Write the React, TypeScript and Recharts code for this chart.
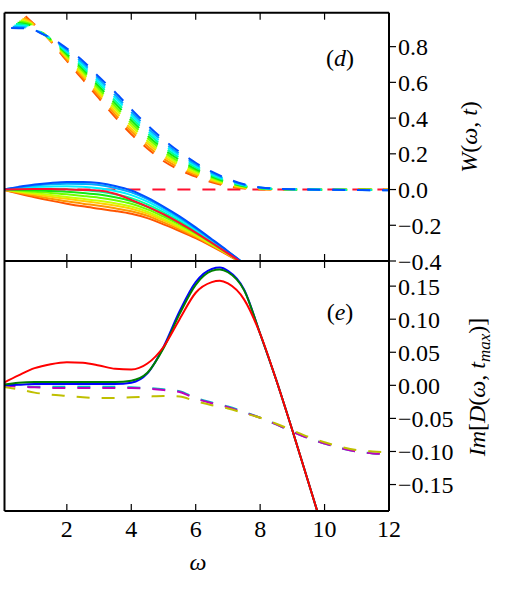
import React from "react";
import { Line, LineChart, XAxis, YAxis } from "recharts";

const W = 520;
const H = 615;
const serif = "Liberation Serif, DejaVu Serif, serif";
const X_MIN = 0.065;

const xTicks = [2, 4, 6, 8, 10, 12];
const wTicks = [-0.4, -0.2, 0, 0.2, 0.4, 0.6, 0.8];
const dTicks = [-0.15, -0.1, -0.05, 0, 0.05, 0.1, 0.15];
const wDomain = [-0.4, 0.99];
const dDomain = [-0.19, 0.188];

// rainbow palette, early time (orange) -> late time (blue)
const rainbow = ["#ff5500", "#ff9500", "#ffd000", "#c8ff00", "#6eff00", "#14e814", "#00ff9a", "#00f0ff", "#00a8ff", "#0050ff"];

// W(omega, t), solid family
const omegaW = [0, 0.5, 1, 1.5, 2, 2.5, 3, 3.5, 4, 4.5, 5, 5.5, 6, 6.5, 7, 7.5, 8];
const wSolid = [
  [0, -0.022, -0.043, -0.062, -0.079, -0.094, -0.107, -0.12, -0.136, -0.16, -0.195, -0.232, -0.272, -0.318, -0.367, -0.42, -0.48],
  [0, -0.018, -0.035, -0.051, -0.066, -0.079, -0.091, -0.105, -0.122, -0.147, -0.184, -0.223, -0.265, -0.314, -0.365, -0.419, -0.481],
  [0, -0.014, -0.027, -0.04, -0.052, -0.064, -0.076, -0.089, -0.107, -0.135, -0.173, -0.214, -0.259, -0.309, -0.362, -0.419, -0.482],
  [0, -0.011, -0.021, -0.031, -0.042, -0.052, -0.063, -0.077, -0.095, -0.124, -0.164, -0.207, -0.253, -0.306, -0.36, -0.418, -0.483],
  [0, -0.006, -0.013, -0.019, -0.027, -0.036, -0.046, -0.06, -0.08, -0.111, -0.152, -0.197, -0.246, -0.301, -0.358, -0.418, -0.484],
  [0, -0.002, -0.004, -0.008, -0.012, -0.019, -0.028, -0.043, -0.064, -0.097, -0.14, -0.187, -0.239, -0.296, -0.355, -0.417, -0.486],
  [0, 0.003, 0.005, 0.004, 0.002, -0.003, -0.011, -0.026, -0.048, -0.083, -0.128, -0.177, -0.232, -0.291, -0.352, -0.417, -0.487],
  [0, 0.008, 0.014, 0.017, 0.018, 0.015, 0.007, -0.008, -0.031, -0.068, -0.115, -0.166, -0.224, -0.286, -0.349, -0.416, -0.488],
  [0, 0.012, 0.022, 0.029, 0.032, 0.031, 0.025, 0.009, -0.016, -0.054, -0.103, -0.157, -0.217, -0.281, -0.347, -0.415, -0.489],
  [0, 0.015, 0.028, 0.037, 0.042, 0.042, 0.036, 0.02, -0.005, -0.045, -0.095, -0.15, -0.212, -0.278, -0.345, -0.415, -0.49],
];
const wRed = [0, 0.002, 0.003, 0.003, 0.001, -0.002, -0.006, -0.024, -0.058, -0.096, -0.138, -0.187, -0.241, -0.298, -0.357, -0.418, -0.485];

// W(omega, t), dashed family: each curve has its own first point, then a shared grid
const omegaStart = [0.72, 0.67, 0.62, 0.57, 0.52, 0.47, 0.42, 0.37, 0.32, 0.27];
const wStart = [0.97, 0.963, 0.956, 0.948, 0.941, 0.934, 0.927, 0.919, 0.912, 0.905];
const omegaWd = [0.85, 1.25, 1.5, 2, 2.5, 3, 3.5, 4, 4.5, 5, 5.5, 6, 6.5, 7, 7.5, 8, 9, 12];
const wDashed = [
  [0.948, 0.88, 0.83, 0.72, 0.615, 0.51, 0.405, 0.31, 0.23, 0.16, 0.11, 0.072, 0.04, 0.018, 0.006, 0.001, 0, 0],
  [0.943, 0.879, 0.832, 0.728, 0.627, 0.523, 0.421, 0.326, 0.244, 0.173, 0.121, 0.081, 0.047, 0.023, 0.009, 0.002, 0, 0],
  [0.937, 0.878, 0.834, 0.736, 0.638, 0.537, 0.436, 0.341, 0.259, 0.187, 0.132, 0.089, 0.053, 0.027, 0.011, 0.003, 0, -0.001],
  [0.932, 0.877, 0.837, 0.743, 0.65, 0.55, 0.452, 0.357, 0.273, 0.2, 0.143, 0.098, 0.06, 0.032, 0.014, 0.005, 0.001, -0.001],
  [0.927, 0.876, 0.839, 0.751, 0.662, 0.563, 0.467, 0.372, 0.288, 0.213, 0.154, 0.107, 0.067, 0.037, 0.017, 0.006, 0.001, -0.002],
  [0.921, 0.874, 0.841, 0.759, 0.673, 0.577, 0.483, 0.388, 0.302, 0.227, 0.166, 0.115, 0.073, 0.041, 0.019, 0.007, 0.001, -0.002],
  [0.916, 0.873, 0.843, 0.767, 0.685, 0.59, 0.498, 0.403, 0.317, 0.24, 0.177, 0.124, 0.08, 0.046, 0.022, 0.008, 0.001, -0.003],
  [0.911, 0.872, 0.846, 0.774, 0.697, 0.603, 0.514, 0.419, 0.331, 0.253, 0.188, 0.133, 0.087, 0.051, 0.025, 0.01, 0.002, -0.003],
  [0.905, 0.871, 0.848, 0.782, 0.708, 0.617, 0.529, 0.434, 0.346, 0.267, 0.199, 0.141, 0.093, 0.055, 0.027, 0.011, 0.002, -0.004],
  [0.9, 0.87, 0.85, 0.79, 0.72, 0.63, 0.545, 0.45, 0.36, 0.28, 0.21, 0.15, 0.1, 0.06, 0.03, 0.012, 0.002, -0.004],
];
const omegaZero = [0, 12];
const wZero = [0, 0];

// Im D(omega, t_max)
const omegaD = [0, 0.5, 1, 1.5, 2, 2.5, 3, 3.5, 4, 4.5, 5, 5.5, 6, 6.5, 6.75, 7, 7.5, 8, 8.5, 9, 9.5, 10];
const dBlue = [0, 0.001, 0.002, 0.002, 0.002, 0.002, 0.002, 0.002, 0.004, 0.018, 0.058, 0.112, 0.156, 0.176, 0.178, 0.173, 0.145, 0.078, 0.008, -0.068, -0.147, -0.226];
const dGreen = [0.001, 0.004, 0.005, 0.005, 0.005, 0.005, 0.005, 0.005, 0.007, 0.019, 0.056, 0.108, 0.152, 0.173, 0.175, 0.171, 0.144, 0.078, 0.008, -0.068, -0.147, -0.226];
const dRed = [0.003, 0.015, 0.026, 0.032, 0.035, 0.034, 0.03, 0.025, 0.024, 0.033, 0.058, 0.1, 0.14, 0.156, 0.158, 0.154, 0.13, 0.078, 0.008, -0.068, -0.147, -0.226];

const omegaDd = [0, 0.5, 1, 1.5, 2, 2.5, 3, 3.5, 4, 4.5, 5, 5.5, 6, 6.5, 7, 7.5, 8, 8.5, 9, 9.5, 10, 10.5, 11, 11.5, 12];
const dCyan = [0.001, -0.001, -0.002, -0.002, -0.002, -0.002, -0.002, -0.002, -0.003, -0.004, -0.006, -0.009, -0.019, -0.026, -0.032, -0.04, -0.049, -0.059, -0.07, -0.08, -0.088, -0.095, -0.1, -0.103, -0.104];
const dMagenta = [0, -0.002, -0.003, -0.004, -0.004, -0.004, -0.004, -0.004, -0.004, -0.005, -0.007, -0.01, -0.02, -0.027, -0.033, -0.041, -0.049, -0.059, -0.07, -0.08, -0.088, -0.095, -0.1, -0.103, -0.104];
const dYellow = [-0.002, -0.006, -0.011, -0.014, -0.016, -0.018, -0.019, -0.019, -0.018, -0.017, -0.016, -0.017, -0.024, -0.03, -0.035, -0.042, -0.049, -0.058, -0.068, -0.078, -0.086, -0.093, -0.098, -0.1, -0.101];

const pts = (xs: number[], ys: number[]) => xs.map((x, i) => ({ x, y: ys[i] }));

const border = { stroke: "#000", strokeWidth: 2 };
const DASH = "13 12";
const textStyle = { fontFamily: serif };

const fmt = (digits: number) => (v: number) => (v < 0 ? "\u2212" : "") + Math.abs(v).toFixed(digits);

// inward x ticks; dir = +1 points down, -1 points up
function xTick(dir: number, label: boolean) {
  return function Tick(props: any) {
    const { x, y, payload } = props;
    return (
      <g>
        <line x1={x} x2={x} y1={y} y2={y + dir * 7} stroke="#000" strokeWidth={1.2} />
        {label ? (
          <text x={x} y={y + 26} textAnchor="middle" style={textStyle} fontSize={24} fill="#000">
            {payload.value}
          </text>
        ) : null}
      </g>
    );
  };
}

function Axes({ domain, ticks, digits, showLabels }: any) {
  return [
    <XAxis key="xb" xAxisId="b" dataKey="x" type="number" domain={[X_MIN, 12]} allowDataOverflow ticks={xTicks}
      interval={0} tickSize={0} tickMargin={0} height={1} axisLine={border} tickLine={false} tick={xTick(-1, showLabels)} />,
    <XAxis key="xt" xAxisId="t" orientation="top" dataKey="x" type="number" domain={[X_MIN, 12]} allowDataOverflow ticks={xTicks}
      interval={0} tickSize={0} tickMargin={0} height={1} axisLine={border} tickLine={false} tick={xTick(1, false)} />,
    <YAxis key="yl" yAxisId="l" orientation="left" type="number" width={1} domain={domain} allowDataOverflow
      axisLine={border} tick={false} tickLine={false} />,
    <YAxis key="yr" yAxisId="r" orientation="right" type="number" width={120} domain={domain} allowDataOverflow
      ticks={ticks} interval={0} tickSize={7} tickMargin={2} axisLine={border} tickLine={{ stroke: "#000", strokeWidth: 1.2 }}
      tick={{ style: textStyle, fontSize: 24, fill: "#000" }} tickFormatter={fmt(digits)} />,
  ];
}

function Curve({ data, color, dashed, width }: any) {
  return (
    <Line xAxisId="b" yAxisId="r" data={data} dataKey="y" type="monotone" stroke={color}
      strokeWidth={width ?? 2} strokeDasharray={dashed ? DASH : undefined}
      dot={false} activeDot={false} isAnimationActive={false} />
  );
}

function TopPanel() {
  return (
    <LineChart width={W} height={H} margin={{ top: 11.7, right: 11, bottom: H - 262, left: 3.5 }}>
      {Axes({ domain: wDomain, ticks: wTicks, digits: 1, showLabels: false })}
      {Curve({ data: pts(omegaZero, wZero), color: "#ff1030", dashed: true })}
      {wSolid.map((ys, i) => (
        <React.Fragment key={"s" + i}>{Curve({ data: pts(omegaW, ys), color: rainbow[i] })}</React.Fragment>
      ))}
      {Curve({ data: pts(omegaW, wRed), color: "#ff1030" })}
      {wDashed.map((ys, i) => (
        <React.Fragment key={"d" + i}>
          {Curve({ data: pts([omegaStart[i], ...omegaWd], [wStart[i], ...ys]), color: rainbow[i], dashed: true })}
        </React.Fragment>
      ))}
      <text x={340} y={66} textAnchor="middle" style={textStyle} fontSize={24} fill="#000">
        {"("}<tspan fontStyle="italic">d</tspan>{")"}
      </text>
      <text transform="translate(477,137) rotate(-90)" textAnchor="middle" style={textStyle} fontSize={24} fill="#000">
        <tspan fontStyle="italic">W</tspan>{"("}<tspan fontStyle="italic">ω</tspan>{", "}
        <tspan fontStyle="italic">t</tspan>{")"}
      </text>
    </LineChart>
  );
}

function BottomPanel() {
  return (
    <LineChart width={W} height={H} margin={{ top: 260, right: 11, bottom: H - 512, left: 3.5 }}>
      {Axes({ domain: dDomain, ticks: dTicks, digits: 2, showLabels: true })}
      {Curve({ data: pts(omegaDd, dCyan), color: "#00bfbf", dashed: true })}
      {Curve({ data: pts(omegaDd, dMagenta), color: "#bf00bf", dashed: true })}
      {Curve({ data: pts(omegaDd, dYellow), color: "#bfbf00", dashed: true })}
      {Curve({ data: pts(omegaD, dBlue), color: "#0000ff" })}
      {Curve({ data: pts(omegaD, dGreen), color: "#008000" })}
      {Curve({ data: pts(omegaD, dRed), color: "#ff0000" })}
      <text x={340} y={320} textAnchor="middle" style={textStyle} fontSize={24} fill="#000">
        {"("}<tspan fontStyle="italic">e</tspan>{")"}
      </text>
      <text transform="translate(485,387) rotate(-90)" textAnchor="middle" style={textStyle} fontSize={24} fill="#000">
        <tspan fontStyle="italic">Im</tspan>{"["}<tspan fontStyle="italic">D</tspan>{"("}
        <tspan fontStyle="italic">ω</tspan>{", "}<tspan fontStyle="italic">t</tspan>
        <tspan fontStyle="italic" fontSize={17} dy={5}>max</tspan>
        <tspan dy={-5}>{")]"}</tspan>
      </text>
      <text x={198} y={570} textAnchor="middle" style={textStyle} fontSize={24} fontStyle="italic" fill="#000">
        ω
      </text>
    </LineChart>
  );
}

export default function App() {
  return (
    <div style={{ position: "absolute", left: 0, top: 0, width: W, height: H, background: "#fff" }}>
      <div style={{ position: "absolute", left: 0, top: 0 }}>
        <TopPanel />
      </div>
      <div style={{ position: "absolute", left: 0, top: 0 }}>
        <BottomPanel />
      </div>
    </div>
  );
}
